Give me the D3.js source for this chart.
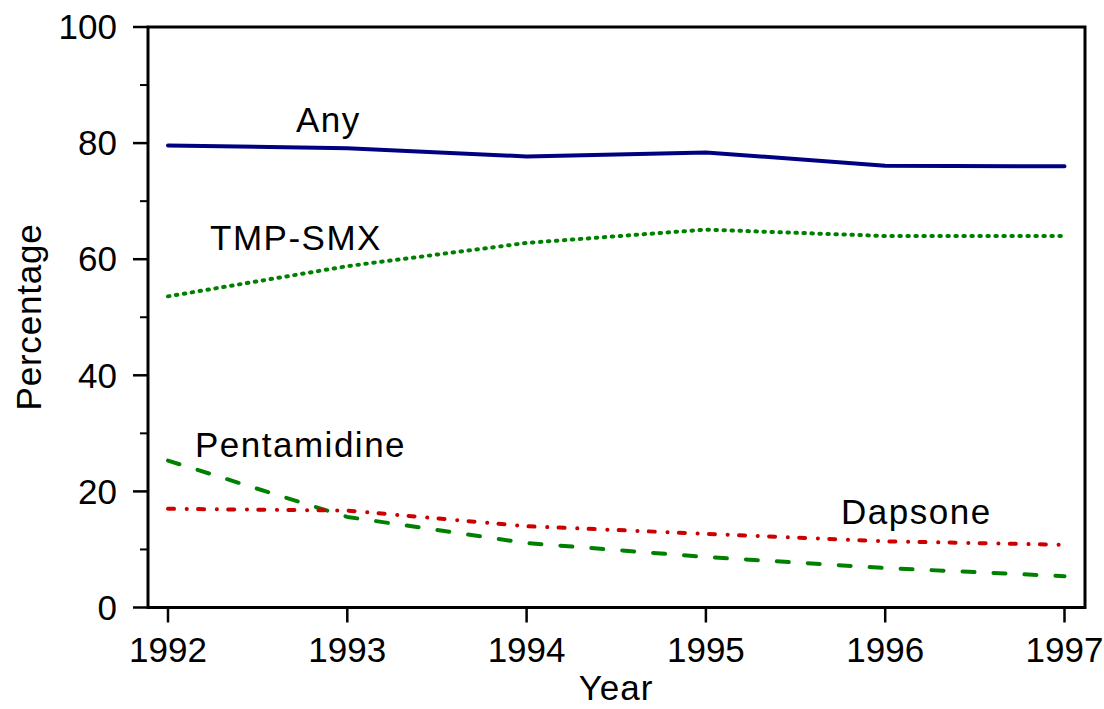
<!DOCTYPE html>
<html>
<head>
<meta charset="utf-8">
<script src="https://cdn.jsdelivr.net/npm/d3@7"></script>
<style>
  body { margin: 0; background: #fff; }
  text { font-family: "Liberation Sans", Arial, sans-serif; fill: #000; }
</style>
</head>
<body>
<div id="chart"></div>
<script>
const years = [1992, 1993, 1994, 1995, 1996, 1997];
const anyPct = [79.6, 79.1, 77.7, 78.4, 76.1, 76.0];
const tmpSmx = [53.6, 58.8, 62.8, 65.1, 64.0, 64.0];
const pentamidine = [25.3, 15.6, 11.1, 8.7, 6.8, 5.4];
const dapsone = [17.0, 16.7, 14.0, 12.7, 11.4, 10.8];

const width = 1104, height = 709;
const plotL = 148, plotR = 1085, plotT = 27, plotB = 607.5;

const x = d3.scaleLinear().domain([1992, 1997]).range([168, 1064.5]);
const y = d3.scaleLinear().domain([0, 100]).range([plotB, plotT]);

const svg = d3.select("#chart").append("svg")
    .attr("width", width)
    .attr("height", height);

// frame
svg.append("rect")
    .attr("x", plotL).attr("y", plotT)
    .attr("width", plotR - plotL).attr("height", plotB - plotT)
    .attr("fill", "none").attr("stroke", "#000").attr("stroke-width", 3);

// y axis: major ticks every 20, minor every 10
const yAxis = svg.append("g");
yAxis.selectAll("line.minor")
    .data(d3.range(10, 100, 20))
    .join("line")
    .attr("class", "minor")
    .attr("x1", plotL - 8).attr("x2", plotL)
    .attr("y1", d => y(d)).attr("y2", d => y(d))
    .attr("stroke", "#000").attr("stroke-width", 2);
yAxis.selectAll("line.major")
    .data(d3.range(0, 101, 20))
    .join("line")
    .attr("class", "major")
    .attr("x1", plotL - 15).attr("x2", plotL)
    .attr("y1", d => y(d)).attr("y2", d => y(d))
    .attr("stroke", "#000").attr("stroke-width", 2.5);
yAxis.selectAll("text")
    .data(d3.range(0, 101, 20))
    .join("text")
    .attr("x", 117).attr("y", d => y(d))
    .attr("dy", "0.35em")
    .attr("text-anchor", "end")
    .attr("font-size", 35)
    .text(d => d);

// x axis
const xAxis = svg.append("g");
xAxis.selectAll("line")
    .data(years)
    .join("line")
    .attr("x1", d => x(d)).attr("x2", d => x(d))
    .attr("y1", plotB).attr("y2", plotB + 15)
    .attr("stroke", "#000").attr("stroke-width", 2.5);
xAxis.selectAll("text")
    .data(years)
    .join("text")
    .attr("x", d => x(d)).attr("y", 662)
    .attr("text-anchor", "middle")
    .attr("font-size", 35)
    .text(d => d);

svg.append("text")
    .attr("x", 616).attr("y", 700)
    .attr("text-anchor", "middle")
    .attr("font-size", 35)
    .attr("letter-spacing", 1)
    .text("Year");

svg.append("text")
    .attr("transform", `translate(41,317) rotate(-90)`)
    .attr("text-anchor", "middle")
    .attr("font-size", 35)
    .attr("letter-spacing", 0.8)
    .text("Percentage");

const series = [
  {name: "Any", values: anyPct, color: "#000080", dash: null, lx: 296, ly: 132},
  {name: "TMP-SMX", values: tmpSmx, color: "#008000", dash: "1.5 6.5", lx: 210, ly: 250},
  {name: "Pentamidine", values: pentamidine, color: "#008000", dash: "12 19", lx: 195, ly: 457},
  {name: "Dapsone", values: dapsone, color: "#cc0000", dash: "6 12.7 0.1 11.3", lx: 841, ly: 524}
];

const line = d3.line()
    .x((d, i) => x(years[i]))
    .y(d => y(d));

for (const s of series) {
  svg.append("path")
      .datum(s.values)
      .attr("d", line)
      .attr("fill", "none")
      .attr("stroke", s.color)
      .attr("stroke-width", 4)
      .attr("stroke-linecap", "round")
      .attr("stroke-linejoin", "round")
      .attr("stroke-dasharray", s.dash);
  svg.append("text")
      .attr("x", s.lx).attr("y", s.ly)
      .attr("font-size", 35)
      .attr("letter-spacing", 1.5)
      .text(s.name);
}
</script>
</body>
</html>
